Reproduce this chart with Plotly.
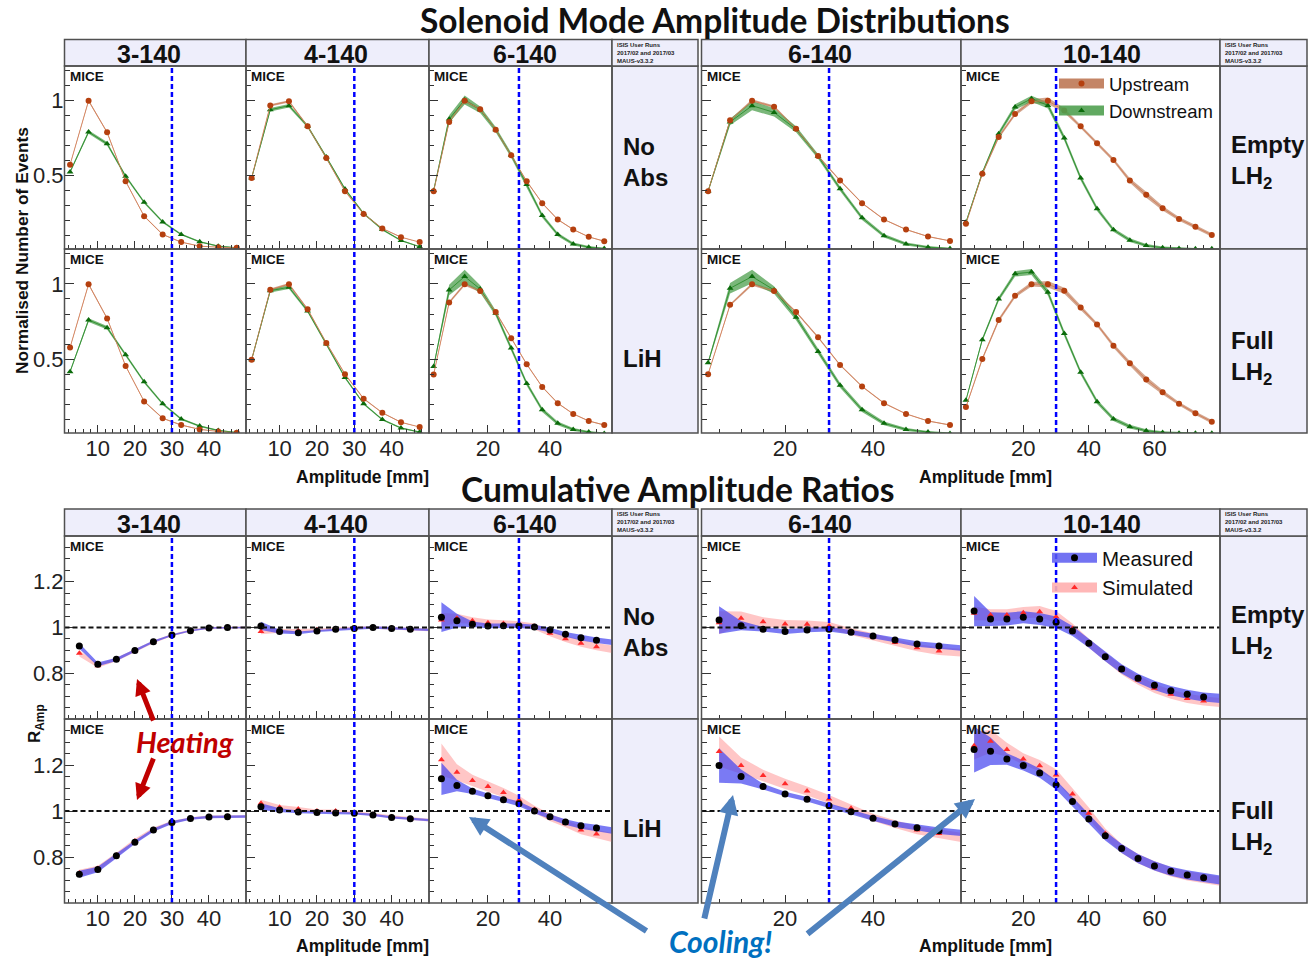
import plotly.graph_objects as go

W, H = 1314, 960

# ---------------- Amplitude distributions (normalised number of events) ----------------
amp_bins_50 = [2.5, 7.5, 12.5, 17.5, 22.5, 27.5, 32.5, 37.5, 42.5, 47.5]
amp_bins_60 = [2.5, 7.5, 12.5, 17.5, 22.5, 27.5, 32.5, 37.5, 42.5, 47.5, 52.5, 57.5]
amp_bins_80 = [2.5, 7.5, 12.5, 17.5, 22.5, 27.5, 32.5, 37.5, 42.5, 47.5, 52.5, 57.5,
               62.5, 67.5, 72.5, 77.5]

# 3-140, No absorber
up_3140_noabs = [0.573, 1.0, 0.789, 0.462, 0.229, 0.107, 0.056, 0.029, 0.022, 0.018]
up_err_3140_noabs = [0.005, 0.006, 0.006, 0.005, 0.004, 0.003, 0.003, 0.002, 0.002, 0.002]
dn_3140_noabs = [0.524, 0.791, 0.713, 0.496, 0.322, 0.191, 0.107, 0.058, 0.029, 0.018]
dn_err_3140_noabs = [0.008, 0.012, 0.012, 0.010, 0.008, 0.007, 0.006, 0.005, 0.004, 0.003]
# 4-140, No absorber
up_4140_noabs = [0.484, 0.969, 0.996, 0.829, 0.618, 0.396, 0.244, 0.147, 0.089, 0.056]
up_err_4140_noabs = [0.005, 0.008, 0.008, 0.007, 0.006, 0.005, 0.004, 0.003, 0.003, 0.002]
dn_4140_noabs = [0.484, 0.940, 0.967, 0.829, 0.624, 0.411, 0.247, 0.140, 0.067, 0.025]
dn_err_4140_noabs = [0.008, 0.012, 0.012, 0.010, 0.009, 0.008, 0.007, 0.006, 0.005, 0.004]
# 6-140, No absorber
up_6140_noabs = [0.396, 0.858, 1.0, 0.944, 0.807, 0.636, 0.462, 0.316, 0.207, 0.140, 0.091, 0.062]
up_err_6140_noabs = [0.005, 0.008, 0.010, 0.008, 0.007, 0.006, 0.005, 0.004, 0.004, 0.003, 0.003, 0.003]
dn_6140_noabs = [0.400, 0.878, 1.005, 0.940, 0.807, 0.636, 0.440, 0.233, 0.107, 0.044, 0.022, 0.013]
dn_err_6140_noabs = [0.010, 0.025, 0.030, 0.022, 0.018, 0.016, 0.015, 0.014, 0.012, 0.010, 0.008, 0.006]
# 6-140, Empty LH2
up_6140_empty = [0.396, 0.869, 1.0, 0.960, 0.813, 0.631, 0.467, 0.316, 0.207, 0.140, 0.093, 0.064]
up_err_6140_empty = [0.005, 0.008, 0.010, 0.008, 0.007, 0.006, 0.005, 0.004, 0.004, 0.003, 0.003, 0.003]
dn_6140_empty = [0.396, 0.858, 0.967, 0.922, 0.809, 0.629, 0.413, 0.218, 0.098, 0.044, 0.022, 0.013]
dn_err_6140_empty = [0.010, 0.022, 0.030, 0.028, 0.020, 0.016, 0.015, 0.014, 0.012, 0.010, 0.008, 0.006]
# 10-140, Empty LH2
up_10140_empty = [0.178, 0.513, 0.758, 0.911, 0.996, 1.0, 0.935, 0.829, 0.716, 0.604, 0.467,
                  0.373, 0.282, 0.211, 0.158, 0.104]
up_err_10140_empty = [0.006, 0.010, 0.012, 0.012, 0.015, 0.022, 0.015, 0.012, 0.012, 0.012, 0.015,
                      0.020, 0.015, 0.012, 0.012, 0.012]
dn_10140_empty = [0.188, 0.518, 0.780, 0.958, 1.013, 0.969, 0.751, 0.484, 0.278, 0.138, 0.069,
                  0.033, 0.018, 0.013, 0.011, 0.011]
dn_err_10140_empty = [0.008, 0.012, 0.015, 0.018, 0.020, 0.020, 0.018, 0.016, 0.015, 0.013, 0.012,
                      0.010, 0.008, 0.006, 0.005, 0.004]

# 3-140, LiH
up_3140_lih = [0.578, 0.998, 0.771, 0.455, 0.220, 0.108, 0.063, 0.034, 0.020, 0.011]
up_err_3140_lih = [0.005, 0.006, 0.006, 0.005, 0.004, 0.003, 0.003, 0.002, 0.002, 0.002]
dn_3140_lih = [0.417, 0.760, 0.709, 0.529, 0.350, 0.204, 0.103, 0.056, 0.027, 0.013]
dn_err_3140_lih = [0.008, 0.012, 0.012, 0.010, 0.009, 0.008, 0.007, 0.006, 0.005, 0.004]
# 4-140, LiH
up_4140_lih = [0.496, 0.962, 0.998, 0.832, 0.608, 0.401, 0.238, 0.144, 0.081, 0.050]
up_err_4140_lih = [0.005, 0.008, 0.008, 0.007, 0.006, 0.005, 0.004, 0.003, 0.003, 0.002]
dn_4140_lih = [0.496, 0.955, 0.978, 0.820, 0.601, 0.379, 0.204, 0.099, 0.043, 0.016]
dn_err_4140_lih = [0.008, 0.012, 0.012, 0.010, 0.009, 0.008, 0.007, 0.006, 0.005, 0.004]
# 6-140, LiH
up_6140_lih = [0.399, 0.877, 0.998, 0.953, 0.814, 0.639, 0.467, 0.316, 0.208, 0.137, 0.090, 0.063]
up_err_6140_lih = [0.005, 0.008, 0.010, 0.008, 0.007, 0.006, 0.005, 0.004, 0.004, 0.003, 0.003, 0.003]
dn_6140_lih = [0.451, 0.960, 1.049, 0.966, 0.805, 0.574, 0.339, 0.164, 0.074, 0.034, 0.016, 0.007]
dn_err_6140_lih = [0.012, 0.035, 0.045, 0.025, 0.018, 0.016, 0.015, 0.014, 0.012, 0.010, 0.008, 0.006]
# 6-140, Full LH2
up_6140_full = [0.401, 0.861, 0.998, 0.953, 0.814, 0.646, 0.462, 0.319, 0.208, 0.137, 0.090, 0.063]
up_err_6140_full = [0.005, 0.008, 0.010, 0.008, 0.007, 0.006, 0.005, 0.004, 0.004, 0.003, 0.003, 0.003]
dn_6140_full = [0.477, 0.971, 1.049, 0.960, 0.778, 0.551, 0.327, 0.164, 0.074, 0.034, 0.016, 0.007]
dn_err_6140_full = [0.012, 0.035, 0.045, 0.025, 0.020, 0.018, 0.016, 0.015, 0.013, 0.010, 0.008, 0.006]
# 10-140, Full LH2
up_10140_full = [0.182, 0.502, 0.760, 0.921, 0.998, 0.998, 0.955, 0.843, 0.731, 0.590, 0.473,
                 0.366, 0.280, 0.204, 0.141, 0.085]
up_err_10140_full = [0.006, 0.010, 0.012, 0.012, 0.015, 0.022, 0.020, 0.014, 0.012, 0.014, 0.016,
                     0.020, 0.015, 0.012, 0.012, 0.012]
dn_10140_full = [0.227, 0.630, 0.900, 1.067, 1.079, 0.944, 0.670, 0.413, 0.218, 0.103, 0.052,
                 0.025, 0.013, 0.009, 0.008, 0.008]
dn_err_10140_full = [0.008, 0.012, 0.015, 0.018, 0.020, 0.020, 0.018, 0.016, 0.015, 0.013, 0.012,
                     0.010, 0.008, 0.006, 0.005, 0.004]

# ---------------- Cumulative amplitude ratios ----------------
# last entry of each list is the band value at the axis end (no marker drawn there)
ratio_amp_50 = [5, 10, 15, 20, 25, 30, 35, 40, 45, 50]
ratio_amp_60 = [5, 10, 15, 20, 25, 30, 35, 40, 45, 50, 55, 60]
ratio_amp_80 = [5, 10, 15, 20, 25, 30, 35, 40, 45, 50, 55, 60, 65, 70, 75, 80]

meas_3140_noabs = [0.919, 0.839, 0.861, 0.899, 0.938, 0.967, 0.986, 0.998, 1.0, 1.0]
meas_err_3140_noabs = [0.012, 0.008, 0.007, 0.006, 0.005, 0.004, 0.003, 0.003, 0.003, 0.003]
sim_3140_noabs = [0.887, 0.833, 0.860, 0.898, 0.937, 0.967, 0.987, 0.998, 1.0, 1.0]
sim_err_3140_noabs = [0.014, 0.009, 0.008, 0.007, 0.006, 0.005, 0.004, 0.004, 0.004, 0.004]

meas_4140_noabs = [1.007, 0.982, 0.977, 0.985, 0.992, 0.996, 1.0, 0.996, 0.992, 0.990]
meas_err_4140_noabs = [0.018, 0.008, 0.006, 0.005, 0.005, 0.005, 0.005, 0.005, 0.005, 0.005]
sim_4140_noabs = [0.982, 0.985, 0.986, 0.990, 0.995, 0.998, 1.0, 0.997, 0.993, 0.990]
sim_err_4140_noabs = [0.012, 0.008, 0.007, 0.006, 0.006, 0.006, 0.006, 0.006, 0.006, 0.006]

meas_6140_noabs = [1.045, 1.030, 1.014, 1.007, 1.008, 1.008, 1.002, 0.989, 0.970, 0.955, 0.944, 0.935]
meas_err_6140_noabs = [0.065, 0.030, 0.012, 0.010, 0.010, 0.010, 0.010, 0.010, 0.010, 0.012, 0.012, 0.012]
sim_6140_noabs = [1.033, 1.040, 1.030, 1.021, 1.018, 1.014, 1.004, 0.975, 0.951, 0.931, 0.916, 0.905]
sim_err_6140_noabs = [0.030, 0.020, 0.015, 0.014, 0.014, 0.013, 0.013, 0.013, 0.014, 0.015, 0.016, 0.016]

meas_6140_empty = [1.033, 1.008, 0.992, 0.982, 0.989, 0.992, 0.979, 0.963, 0.945, 0.928, 0.919, 0.910]
meas_err_6140_empty = [0.060, 0.020, 0.010, 0.010, 0.010, 0.010, 0.010, 0.010, 0.010, 0.012, 0.012, 0.012]
sim_6140_empty = [1.021, 1.040, 1.025, 1.015, 1.014, 1.008, 0.982, 0.960, 0.934, 0.912, 0.897, 0.890]
sim_err_6140_empty = [0.050, 0.030, 0.020, 0.018, 0.017, 0.016, 0.015, 0.015, 0.015, 0.016, 0.017, 0.017]

meas_10140_empty = [1.072, 1.037, 1.037, 1.045, 1.037, 1.023, 0.985, 0.931, 0.872, 0.819, 0.778,
                    0.747, 0.724, 0.708, 0.696, 0.690]
meas_err_10140_empty = [0.066, 0.030, 0.028, 0.026, 0.026, 0.025, 0.022, 0.020, 0.020, 0.020, 0.020,
                        0.020, 0.020, 0.020, 0.020, 0.020]
sim_10140_empty = [1.062, 1.055, 1.055, 1.065, 1.069, 1.047, 0.996, 0.931, 0.872, 0.814, 0.770,
                   0.734, 0.708, 0.690, 0.679, 0.672]
sim_err_10140_empty = [0.030, 0.025, 0.025, 0.025, 0.025, 0.025, 0.022, 0.020, 0.020, 0.020, 0.020,
                       0.020, 0.020, 0.020, 0.020, 0.020]

meas_3140_lih = [0.725, 0.746, 0.805, 0.864, 0.917, 0.950, 0.967, 0.974, 0.975, 0.976]
meas_err_3140_lih = [0.015, 0.012, 0.010, 0.008, 0.007, 0.006, 0.005, 0.005, 0.005, 0.005]
sim_3140_lih = [0.730, 0.750, 0.808, 0.870, 0.920, 0.952, 0.968, 0.975, 0.976, 0.977]
sim_err_3140_lih = [0.015, 0.012, 0.010, 0.009, 0.008, 0.006, 0.005, 0.005, 0.005, 0.005]

meas_4140_lih = [1.019, 1.004, 0.996, 0.993, 0.991, 0.990, 0.983, 0.972, 0.966, 0.960]
meas_err_4140_lih = [0.015, 0.008, 0.006, 0.005, 0.005, 0.005, 0.005, 0.005, 0.005, 0.005]
sim_4140_lih = [1.034, 1.016, 1.009, 1.0, 1.0, 0.993, 0.985, 0.975, 0.966, 0.960]
sim_err_4140_lih = [0.015, 0.010, 0.008, 0.007, 0.006, 0.006, 0.006, 0.006, 0.006, 0.006]

meas_6140_lih = [1.140, 1.111, 1.086, 1.066, 1.049, 1.031, 1.0, 0.975, 0.952, 0.936, 0.926, 0.915]
meas_err_6140_lih = [0.070, 0.025, 0.012, 0.010, 0.010, 0.010, 0.010, 0.010, 0.012, 0.013, 0.014, 0.014]
sim_6140_lih = [1.223, 1.168, 1.133, 1.106, 1.080, 1.048, 1.007, 0.972, 0.946, 0.917, 0.900, 0.885]
sim_err_6140_lih = [0.070, 0.035, 0.025, 0.022, 0.020, 0.018, 0.016, 0.016, 0.017, 0.018, 0.019, 0.020]

meas_6140_full = [1.198, 1.150, 1.106, 1.074, 1.051, 1.023, 0.997, 0.968, 0.943, 0.927, 0.914, 0.905]
meas_err_6140_full = [0.075, 0.030, 0.012, 0.010, 0.010, 0.010, 0.010, 0.010, 0.012, 0.013, 0.014, 0.014]
sim_6140_full = [1.259, 1.198, 1.154, 1.118, 1.087, 1.052, 1.012, 0.972, 0.943, 0.917, 0.902, 0.885]
sim_err_6140_full = [0.065, 0.035, 0.025, 0.022, 0.020, 0.018, 0.016, 0.016, 0.017, 0.018, 0.019, 0.020]

meas_10140_full = [1.267, 1.260, 1.226, 1.198, 1.165, 1.114, 1.041, 0.965, 0.892, 0.837, 0.793,
                   0.761, 0.738, 0.722, 0.710, 0.700]
meas_err_10140_full = [0.100, 0.060, 0.025, 0.022, 0.020, 0.020, 0.020, 0.020, 0.020, 0.020, 0.020,
                       0.020, 0.020, 0.020, 0.020, 0.020]
sim_10140_full = [1.284, 1.303, 1.267, 1.226, 1.197, 1.157, 1.074, 0.990, 0.902, 0.837, 0.793,
                  0.761, 0.735, 0.718, 0.706, 0.695]
sim_err_10140_full = [0.060, 0.050, 0.030, 0.025, 0.025, 0.025, 0.025, 0.025, 0.022, 0.020, 0.020,
                      0.020, 0.020, 0.020, 0.020, 0.020]

# ---------------- Labels ----------------
beam_settings = ["3-140", "4-140", "6-140", "6-140", "10-140"]
row_labels_left = ["No<br>Abs", "LiH"]
row_labels_right = ["Empty<br>LH<sub>2</sub>", "Full<br>LH<sub>2</sub>"]

# ---------------- Styling / geometry ----------------
FONT = "Liberation Sans, Arial, sans-serif"
TITLE_FONT = "Lato, Liberation Sans, sans-serif"
FRAME = "#505050"
CELL = "#eeeefb"
TICK = "#333333"

UP_MARK, UP_LINE, UP_BAND = "#b5400f", "rgba(210,125,85,0.85)", "rgba(175,95,55,0.55)"
DN_MARK, DN_LINE, DN_BAND = "#0b6b0b", "rgba(40,140,40,0.85)", "rgba(70,155,70,0.72)"
MEAS_MARK, MEAS_BAND = "#000000", "rgba(70,70,240,0.72)"
SIM_MARK, SIM_BAND = "#ff2a2a", "rgba(255,160,160,0.6)"

# panel columns (pixel edges), header text centre and x axis setup
COLS = [
    dict(x0=64.5, x1=246, hx=149, rng=[1, 50], tv=[10, 20, 30, 40], minor=2),
    dict(x0=246, x1=429, hx=336, rng=[1, 50], tv=[10, 20, 30, 40], minor=2),
    dict(x0=429, x1=612, hx=525, rng=[1, 60], tv=[20, 40], minor=5),
    dict(x0=701.5, x1=961, hx=820, rng=[1, 60], tv=[20, 40], minor=5),
    dict(x0=961, x1=1220, hx=1102, rng=[1, 80], tv=[20, 40, 60], minor=5),
]
LABEL_COLS = [(612, 698), (1220, 1307)]
SECTIONS = [
    dict(header=(39.5, 66), rows=[(66, 249), (249, 433)], yr=[0.01, 1.232],
         ytv=[0.5, 1.0], ytt=["0.5", "1"], yminor=0.1),
    dict(header=(509, 536), rows=[(536, 719), (719, 903)], yr=[0.6, 1.4],
         ytv=[0.8, 1.0, 1.2], ytt=["0.8", "1", "1.2"], yminor=0.05),
]

DIST_PANELS = [
    [(amp_bins_50, up_3140_noabs, up_err_3140_noabs, dn_3140_noabs, dn_err_3140_noabs),
     (amp_bins_50, up_4140_noabs, up_err_4140_noabs, dn_4140_noabs, dn_err_4140_noabs),
     (amp_bins_60, up_6140_noabs, up_err_6140_noabs, dn_6140_noabs, dn_err_6140_noabs),
     (amp_bins_60, up_6140_empty, up_err_6140_empty, dn_6140_empty, dn_err_6140_empty),
     (amp_bins_80, up_10140_empty, up_err_10140_empty, dn_10140_empty, dn_err_10140_empty)],
    [(amp_bins_50, up_3140_lih, up_err_3140_lih, dn_3140_lih, dn_err_3140_lih),
     (amp_bins_50, up_4140_lih, up_err_4140_lih, dn_4140_lih, dn_err_4140_lih),
     (amp_bins_60, up_6140_lih, up_err_6140_lih, dn_6140_lih, dn_err_6140_lih),
     (amp_bins_60, up_6140_full, up_err_6140_full, dn_6140_full, dn_err_6140_full),
     (amp_bins_80, up_10140_full, up_err_10140_full, dn_10140_full, dn_err_10140_full)],
]
RATIO_PANELS = [
    [(ratio_amp_50, meas_3140_noabs, meas_err_3140_noabs, sim_3140_noabs, sim_err_3140_noabs),
     (ratio_amp_50, meas_4140_noabs, meas_err_4140_noabs, sim_4140_noabs, sim_err_4140_noabs),
     (ratio_amp_60, meas_6140_noabs, meas_err_6140_noabs, sim_6140_noabs, sim_err_6140_noabs),
     (ratio_amp_60, meas_6140_empty, meas_err_6140_empty, sim_6140_empty, sim_err_6140_empty),
     (ratio_amp_80, meas_10140_empty, meas_err_10140_empty, sim_10140_empty, sim_err_10140_empty)],
    [(ratio_amp_50, meas_3140_lih, meas_err_3140_lih, sim_3140_lih, sim_err_3140_lih),
     (ratio_amp_50, meas_4140_lih, meas_err_4140_lih, sim_4140_lih, sim_err_4140_lih),
     (ratio_amp_60, meas_6140_lih, meas_err_6140_lih, sim_6140_lih, sim_err_6140_lih),
     (ratio_amp_60, meas_6140_full, meas_err_6140_full, sim_6140_full, sim_err_6140_full),
     (ratio_amp_80, meas_10140_full, meas_err_10140_full, sim_10140_full, sim_err_10140_full)],
]


def px(x):
    return x / W


def py(y):
    return 1 - y / H


def band(xs, ys, es):
    hi = [y + e for y, e in zip(ys, es)]
    lo = [y - e for y, e in zip(ys, es)]
    return list(xs) + list(xs[::-1]), hi + lo[::-1]


fig = go.Figure()
layout_axes = {}
shapes = []
annotations = []


def axis_ids(k):
    return ("x" if k == 1 else f"x{k}"), ("y" if k == 1 else f"y{k}")


for s, sec in enumerate(SECTIONS):
    for r, (ry0, ry1) in enumerate(sec["rows"]):
        for c, col in enumerate(COLS):
            k = s * 10 + r * 5 + c + 1
            xid, yid = axis_ids(k)
            layout_axes["xaxis" if k == 1 else f"xaxis{k}"] = dict(
                domain=[px(col["x0"]), px(col["x1"])], range=col["rng"], anchor=yid,
                showgrid=False, zeroline=False, showline=False,
                tickmode="array", tickvals=col["tv"], ticks="inside", ticklen=8,
                tickcolor=TICK, tickwidth=1, showticklabels=(r == 1),
                tickfont=dict(family=FONT, size=22, color="#222"),
                minor=dict(tickmode="linear", tick0=0, dtick=col["minor"], ticks="inside",
                           ticklen=4, tickcolor=TICK, tickwidth=1),
            )
            layout_axes["yaxis" if k == 1 else f"yaxis{k}"] = dict(
                domain=[py(ry1), py(ry0)], range=sec["yr"], anchor=xid,
                showgrid=False, zeroline=False, showline=False,
                tickmode="array", tickvals=sec["ytv"], ticktext=sec["ytt"],
                ticks="inside", ticklen=9, tickcolor=TICK, tickwidth=1,
                showticklabels=(c == 0),
                tickfont=dict(family=FONT, size=22, color="#222"),
                minor=dict(tickmode="linear", tick0=0, dtick=sec["yminor"], ticks="inside",
                           ticklen=5, tickcolor=TICK, tickwidth=1),
            )

            if s == 0:
                xs, up, upe, dn, dne = DIST_PANELS[r][c]
                bx, by = band(xs, up, upe)
                fig.add_trace(go.Scatter(x=bx, y=by, fill="toself", fillcolor=UP_BAND,
                                         line=dict(width=0), mode="lines", hoverinfo="skip",
                                         showlegend=False, xaxis=xid, yaxis=yid))
                bx, by = band(xs, dn, dne)
                fig.add_trace(go.Scatter(x=bx, y=by, fill="toself", fillcolor=DN_BAND,
                                         line=dict(width=0), mode="lines", hoverinfo="skip",
                                         showlegend=False, xaxis=xid, yaxis=yid))
                fig.add_trace(go.Scatter(x=xs, y=dn, mode="lines+markers",
                                         line=dict(color=DN_LINE, width=1),
                                         marker=dict(symbol="triangle-up", size=6, color=DN_MARK),
                                         showlegend=False, xaxis=xid, yaxis=yid))
                fig.add_trace(go.Scatter(x=xs, y=up, mode="lines+markers",
                                         line=dict(color=UP_LINE, width=1),
                                         marker=dict(symbol="circle", size=6, color=UP_MARK),
                                         showlegend=False, xaxis=xid, yaxis=yid))
            else:
                xs, me, mee, si, sie = RATIO_PANELS[r][c]
                bx, by = band(xs, si, sie)
                fig.add_trace(go.Scatter(x=bx, y=by, fill="toself", fillcolor=SIM_BAND,
                                         line=dict(width=0), mode="lines", hoverinfo="skip",
                                         showlegend=False, xaxis=xid, yaxis=yid))
                bx, by = band(xs, me, mee)
                fig.add_trace(go.Scatter(x=bx, y=by, fill="toself", fillcolor=MEAS_BAND,
                                         line=dict(width=0), mode="lines", hoverinfo="skip",
                                         showlegend=False, xaxis=xid, yaxis=yid))
                fig.add_trace(go.Scatter(x=xs[:-1], y=si[:-1], mode="markers",
                                         marker=dict(symbol="triangle-up", size=6, color=SIM_MARK),
                                         showlegend=False, xaxis=xid, yaxis=yid))
                fig.add_trace(go.Scatter(x=xs[:-1], y=me[:-1], mode="markers",
                                         marker=dict(symbol="circle", size=7, color=MEAS_MARK),
                                         showlegend=False, xaxis=xid, yaxis=yid))
                # reference line at ratio = 1
                shapes.append(dict(type="line", xref=f"{xid} domain", x0=0, x1=1, yref=yid,
                                   y0=1, y1=1, line=dict(color="#111", width=2, dash="5px,3px"),
                                   layer="above"))

            # 30 mm amplitude cut
            shapes.append(dict(type="line", xref=xid, x0=30, x1=30, yref=f"{yid} domain",
                               y0=0, y1=1, line=dict(color="#0000ff", width=2.5, dash="5px,3px"),
                               layer="above"))
            # panel frame
            shapes.append(dict(type="rect", xref="paper", yref="paper",
                               x0=px(col["x0"]), x1=px(col["x1"]), y0=py(ry1), y1=py(ry0),
                               line=dict(color=FRAME, width=1.5), layer="above"))
            annotations.append(dict(text="<b>MICE</b>", xref="paper", yref="paper",
                                    x=px(col["x0"] + 3), y=py(ry0 + 1), xanchor="left",
                                    yanchor="top", showarrow=False,
                                    font=dict(family=FONT, size=13.5, color="#111")))

        # absorber label cells
        for g, (lx0, lx1) in enumerate(LABEL_COLS):
            shapes.append(dict(type="rect", xref="paper", yref="paper", x0=px(lx0), x1=px(lx1),
                               y0=py(ry1), y1=py(ry0), fillcolor=CELL,
                               line=dict(color=FRAME, width=1.5), layer="below"))
            txt = (row_labels_left if g == 0 else row_labels_right)[r]
            yc = (ry0 + ry1) / 2 + (4 if r == 0 else 17)
            annotations.append(dict(text=f"<b>{txt}</b>", xref="paper", yref="paper",
                                    x=px(lx0 + 9), y=py(yc), xanchor="left", yanchor="middle",
                                    align="left", showarrow=False,
                                    font=dict(family=FONT, size=24, color="#111")))

    # header strip
    hy0, hy1 = sec["header"]
    for c, col in enumerate(COLS):
        shapes.append(dict(type="rect", xref="paper", yref="paper", x0=px(col["x0"]),
                           x1=px(col["x1"]), y0=py(hy1), y1=py(hy0), fillcolor=CELL,
                           line=dict(color=FRAME, width=1.5), layer="below"))
        annotations.append(dict(text=f"<b>{beam_settings[c]}</b>", xref="paper", yref="paper",
                                x=px(col["hx"]), y=py((hy0 + hy1) / 2 + 1),
                                xanchor="center", yanchor="middle", showarrow=False,
                                font=dict(family=FONT, size=25, color="#111")))
    for lx0, lx1 in LABEL_COLS:
        shapes.append(dict(type="rect", xref="paper", yref="paper", x0=px(lx0), x1=px(lx1),
                           y0=py(hy1), y1=py(hy0), fillcolor=CELL,
                           line=dict(color=FRAME, width=1.5), layer="below"))
        annotations.append(dict(text="<b>ISIS User Runs<br>2017/02 and 2017/03<br>MAUS-v3.3.2</b>",
                                xref="paper", yref="paper", x=px(lx0 + 4), y=py(hy0 + 1),
                                xanchor="left", yanchor="top", align="left", showarrow=False,
                                borderpad=0, font=dict(family=FONT, size=6, color="#222")))

# legend entries (band with marker)
fig.add_trace(go.Scatter(x=[None], y=[None], mode="lines+markers", name="Upstream",
                         line=dict(color="rgba(190,120,85,0.9)", width=10),
                         marker=dict(symbol="circle", size=6, color=UP_MARK),
                         legend="legend", xaxis="x5", yaxis="y5"))
fig.add_trace(go.Scatter(x=[None], y=[None], mode="lines+markers", name="Downstream",
                         line=dict(color="rgba(80,160,80,0.9)", width=10),
                         marker=dict(symbol="triangle-up", size=6, color=DN_MARK),
                         legend="legend", xaxis="x5", yaxis="y5"))
fig.add_trace(go.Scatter(x=[None], y=[None], mode="lines+markers", name="Measured",
                         line=dict(color="rgba(90,90,240,0.85)", width=10),
                         marker=dict(symbol="circle", size=7, color=MEAS_MARK),
                         legend="legend2", xaxis="x15", yaxis="y15"))
fig.add_trace(go.Scatter(x=[None], y=[None], mode="lines+markers", name="Simulated",
                         line=dict(color="rgba(255,175,175,0.9)", width=10),
                         marker=dict(symbol="triangle-up", size=6, color=SIM_MARK),
                         legend="legend2", xaxis="x15", yaxis="y15"))

# section titles and axis titles
def add_text(text, x, y, size, family=FONT, color="#111", angle=0):
    annotations.append(dict(text=text, xref="paper", yref="paper", x=px(x), y=py(y),
                            xanchor="center", yanchor="middle", showarrow=False, textangle=angle,
                            borderpad=0, font=dict(family=family, size=size, color=color)))


add_text("<b>Solenoid Mode Amplitude Distributions</b>", 715, 20, 33.5, TITLE_FONT)
add_text("<b>Cumulative Amplitude Ratios</b>", 678, 489, 33.5, TITLE_FONT)
for xc, yc in [(362, 477), (985, 477), (362, 946), (985, 946)]:
    add_text("<b>Amplitude [mm]</b>", xc, yc, 17.5)
add_text("<b>Normalised Number of Events</b>", 22, 251, 17.3, angle=-90)
add_text("<b>R<sub>Amp</sub></b>", 36, 724, 17, angle=-90)
add_text("<b><i>Heating</i></b>", 185, 741, 29, TITLE_FONT, color="#c00000")
add_text("<b><i>Cooling!</i></b>", 720, 941, 30, TITLE_FONT, color="#0070c0")

# arrows: (head x, head y, tail x, tail y, colour, width)
ARROWS = [
    (137, 679, 154, 722, "#c00000", 5),
    (137, 800, 154, 757, "#c00000", 5),
    (469, 817, 648, 932, "#4f81bd", 6),
    (733, 795, 704, 920, "#4f81bd", 6),
    (975, 799, 806, 935, "#4f81bd", 6),
]
for hx, hy, tx, ty, col, wd in ARROWS:
    annotations.append(dict(text="", xref="paper", yref="paper", x=px(hx), y=py(hy),
                            ax=tx - hx, ay=ty - hy, showarrow=True, arrowhead=2,
                            arrowsize=0.65, arrowwidth=wd, arrowcolor=col, standoff=0))

fig.update_layout(
    width=W, height=H, margin=dict(l=0, r=0, t=0, b=0),
    paper_bgcolor="white", plot_bgcolor="rgba(0,0,0,0)",
    shapes=shapes, annotations=annotations,
    legend=dict(x=px(1054), y=py(65), xanchor="left", yanchor="top", bgcolor="rgba(0,0,0,0)",
                itemwidth=45, font=dict(family=FONT, size=18.5, color="#111"),
                tracegroupgap=0),
    legend2=dict(x=px(1047), y=py(538), xanchor="left", yanchor="top", bgcolor="rgba(0,0,0,0)",
                 itemwidth=45, font=dict(family=FONT, size=20.5, color="#111"),
                 tracegroupgap=0),
    **layout_axes,
)

fig.write_html("out.html")
